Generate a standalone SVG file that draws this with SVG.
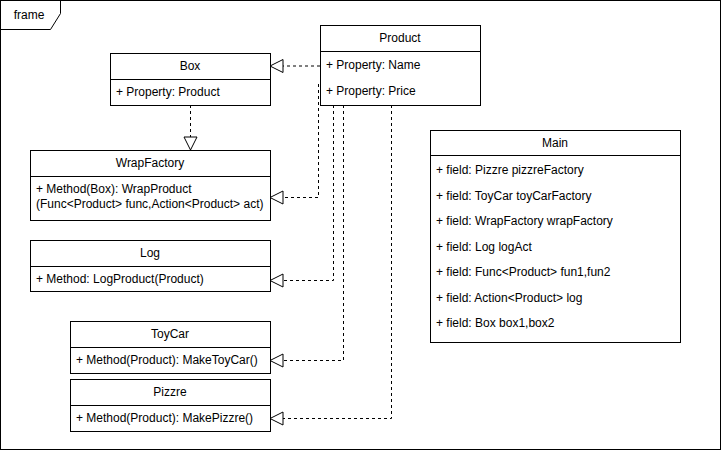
<svg xmlns="http://www.w3.org/2000/svg" width="722" height="451" viewBox="0 0 722 451">
<style>
text{font-family:"Liberation Sans",Arial,Helvetica,sans-serif;font-size:12px;fill:#000}
.t{text-anchor:middle}
.box{fill:#fff;stroke:#000;stroke-width:1}
.ln{fill:none;stroke:#000;stroke-width:1}
.dash{fill:none;stroke:#000;stroke-width:1;stroke-dasharray:3 3}
</style>
<defs>
<marker id="tri" viewBox="0 0 15 15" refX="14" refY="7.5" markerWidth="15" markerHeight="15" markerUnits="userSpaceOnUse" orient="auto">
<path d="M1,1 L14,7.5 L1,14 Z" fill="#fff" stroke="#000" stroke-width="1"/>
</marker>
</defs>
<rect x="0" y="0" width="722" height="451" fill="#fff"/>
<g id="frame">
<rect x="0.5" y="0.5" width="720" height="449" class="ln"/>
<path d="M0.5,29.5 H50.5 L60.5,13.5 V0.5" class="ln"/>
<text x="29" y="19" class="t">frame</text>
</g>
<g id="connectors">
<path d="M320,66 H270" class="dash" marker-end="url(#tri)"/>
<path d="M318.5,84 V197.5 H270" class="dash" marker-end="url(#tri)"/>
<path d="M333.5,105 V280.5 H270" class="dash" marker-end="url(#tri)"/>
<path d="M343.5,105 V360.5 H270" class="dash" marker-end="url(#tri)"/>
<path d="M391.5,105 V418.5 H270" class="dash" marker-end="url(#tri)"/>
<path d="M190.5,105 V150" class="dash" marker-end="url(#tri)"/>
</g>
<g id="box">
<rect x="110.5" y="53.5" width="160" height="52" class="box"/>
<path d="M110.5,79.5 H270.5" class="ln"/>
<text x="190" y="70" class="t">Box</text>
<text x="116" y="96">+ Property: Product</text>
</g>
<g id="product">
<rect x="320.5" y="25.5" width="160" height="80" class="box"/>
<path d="M320.5,51.5 H480.5" class="ln"/>
<text x="400" y="42" class="t">Product</text>
<text x="326" y="69">+ Property: Name</text>
<text x="326" y="95">+ Property: Price</text>
</g>
<g id="wrapfactory">
<rect x="30.5" y="150.5" width="240" height="70" class="box"/>
<path d="M30.5,176.5 H270.5" class="ln"/>
<text x="150" y="167" class="t">WrapFactory</text>
<text x="36" y="193">+ Method(Box): WrapProduct</text>
<text x="36" y="208">(Func&lt;Product&gt; func,Action&lt;Product&gt; act)</text>
</g>
<g id="log">
<rect x="30.5" y="240.5" width="240" height="51" class="box"/>
<path d="M30.5,266.5 H270.5" class="ln"/>
<text x="150" y="257" class="t">Log</text>
<text x="36" y="283">+ Method: LogProduct(Product)</text>
</g>
<g id="toycar">
<rect x="70.5" y="321.5" width="200" height="52" class="box"/>
<path d="M70.5,347.5 H270.5" class="ln"/>
<text x="170" y="338" class="t">ToyCar</text>
<text x="76" y="364">+ Method(Product): MakeToyCar()</text>
</g>
<g id="pizzre">
<rect x="70.5" y="379.5" width="200" height="52" class="box"/>
<path d="M70.5,405.5 H270.5" class="ln"/>
<text x="170" y="396" class="t">Pizzre</text>
<text x="76" y="422">+ Method(Product): MakePizzre()</text>
</g>
<g id="main">
<rect x="430.5" y="130.5" width="250" height="212" class="box"/>
<path d="M430.5,155.5 H680.5" class="ln"/>
<text x="555" y="147" class="t">Main</text>
<text x="436" y="174">+ field: Pizzre pizzreFactory</text>
<text x="436" y="200">+ field: ToyCar toyCarFactory</text>
<text x="436" y="225">+ field: WrapFactory wrapFactory</text>
<text x="436" y="251">+ field: Log logAct</text>
<text x="436" y="276">+ field: Func&lt;Product&gt; fun1,fun2</text>
<text x="436" y="302">+ field: Action&lt;Product&gt; log</text>
<text x="436" y="327">+ field: Box box1,box2</text>
</g>
</svg>
